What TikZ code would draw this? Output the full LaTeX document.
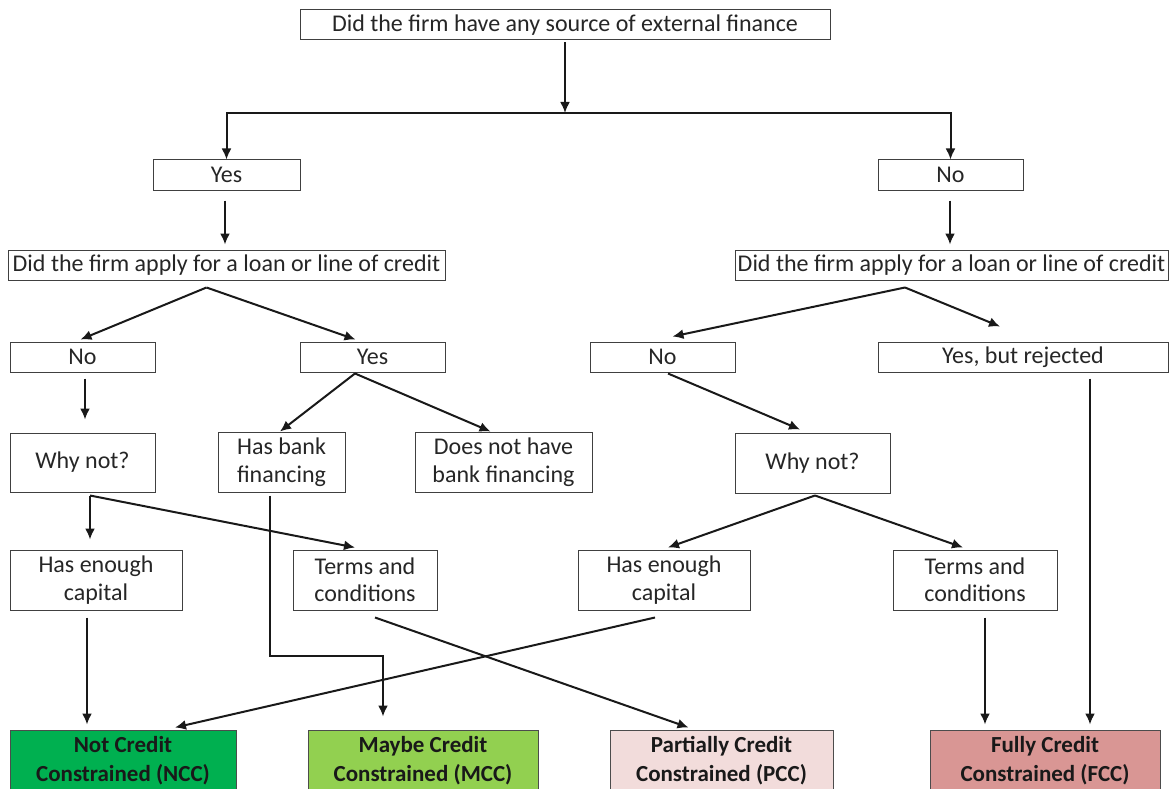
\documentclass[tikz,border=0pt]{standalone}
\usepackage{fontspec}
\setmainfont{Carlito}
\usepackage{tikz}
\usetikzlibrary{arrows.meta}
\usepackage{xcolor}
\usetikzlibrary{positioning}

\definecolor{nccgreen}{RGB}{0,176,80}
\definecolor{mccgreen}{RGB}{146,208,80}
\definecolor{pccpink}{RGB}{242,220,219}
\definecolor{fccpink}{RGB}{217,150,148}

\begin{document}
\begin{tikzpicture}[x=1pt,y=1pt]
  \tikzset{box/.style = {shape=rectangle,draw=black!75,line width=1pt,inner sep=1pt,
      align=center,text=black!85,font=\fontsize{24}{27.5}\selectfont}}
  \tikzset{outcome/.style = {box,font=\bfseries\fontsize{23}{29}\selectfont,text=black!90,
      minimum height=62,draw=black!70}}
  \tikzset{%
  tipE/.tip={Latex[length=11pt,width=10pt]},
  }
  \tikzset{edge/.style = {-tipE,line width=2pt,black!90}}
  \useasboundingbox (0,0) rectangle (1170,-789);

	\node[box,minimum width=530,minimum height=30] (src) at (565,-25) {Did the firm have any source of external finance};
	\node[box,minimum width=147,minimum height=30] (yes0) at (226.5,-175) {Yes};
	\node[box,minimum width=145,minimum height=30] (no0) at (950.5,-175) {No};
	\node[box,minimum width=437,minimum height=30] (applyA) at (226.5,-265) {Did the firm apply for a loan or line of credit};
	\node[box,minimum width=433,minimum height=30] (applyB) at (951.5,-265) {Did the firm apply for a loan or line of credit};
	\node[box,minimum width=145,minimum height=30] (noA) at (82.5,-357) {No};
	\node[box,minimum width=145,minimum height=30] (yesA) at (372.5,-357) {Yes};
	\node[box,minimum width=145,minimum height=30] (noB) at (662.5,-357) {No};
	\node[box,minimum width=290,minimum height=30] (yesrej) at (1023,-357) {Yes, but rejected};
	\node[box,minimum width=145,minimum height=59] (whyA) at (82.5,-462.5) {Why not?};
	\node[box,minimum width=127,minimum height=60] (bank) at (281.5,-462) {Has bank\\financing};
	\node[box,minimum width=177,minimum height=60] (nobank) at (503.5,-462) {Does not have\\bank financing};
	\node[box,minimum width=155,minimum height=60] (whyB) at (812.5,-463) {Why not?};
	\node[box,minimum width=172,minimum height=60] (capA) at (96,-580) {Has enough\\capital};
	\node[box,minimum width=144,minimum height=60] (termsA) at (365,-580) {Terms and\\conditions};
	\node[box,minimum width=172,minimum height=60] (capB) at (664,-580) {Has enough\\capital};
	\node[box,minimum width=164,minimum height=60] (termsB) at (975,-580) {Terms and\\conditions};
	\node[outcome,fill=nccgreen,minimum width=226] (ncc) at (123,-761) {Not Credit\\Constrained (NCC)};
	\node[outcome,fill=mccgreen,minimum width=230] (mcc) at (423,-761) {Maybe Credit\\Constrained (MCC)};
	\node[outcome,fill=pccpink,minimum width=223] (pcc) at (721.5,-761) {Partially Credit\\Constrained (PCC)};
	\node[outcome,fill=fccpink,minimum width=230] (fcc) at (1045,-761) {Fully Credit\\Constrained (FCC)};

	\coordinate (split) at (565,-113);
	\draw[edge] ([yshift=-2]src.south) -- (split);
	\draw[edge] (split) -| (yes0.north);
	\draw[edge] (split) -| (no0.north);

    \draw[edge] ([xshift=-1.5,yshift=-10]yes0.south) -- ([xshift=-1.5,yshift=5]applyA.north);
    \draw[edge] ([xshift=-0.5,yshift=-10]no0.south) -- ([xshift=-1.5,yshift=5]applyB.north);

    \draw[edge] ([xshift=-20,yshift=-7]applyA.south) -- ([xshift=-2,yshift=2]noA.north);
    \draw[edge] ([xshift=-20,yshift=-7]applyA.south) -- ([xshift=-17,yshift=2]yesA.north);
    \draw[edge] ([xshift=-46.5,yshift=-7]applyB.south) -- ([xshift=10,yshift=5]noB.north);
    \draw[edge] ([xshift=-46.5,yshift=-7]applyB.south) -- ([xshift=-23,yshift=15]yesrej.north);

    \draw[edge] ([xshift=2.5,yshift=-6]noA.south) -- ([xshift=2.5,yshift=13]whyA.north);
    \draw[edge] ([xshift=-17.5,yshift=-1]yesA.south) -- ([xshift=-1.5]bank.north);
    \draw[edge] ([xshift=-17.5,yshift=-1]yesA.south) -- ([xshift=-13]nobank.north);
    \draw[edge] ([xshift=5.5,yshift=-1]noB.south) -- ([xshift=-12.5,yshift=3]whyB.north);

    \draw[edge] ([xshift=7.5,yshift=-3]whyA.south) -- ([xshift=-6,yshift=10]capA.north);
    \draw[edge] ([xshift=7.5,yshift=-3]whyA.south) -- ([xshift=-10,yshift=2]termsA.north);
    \draw[edge] ([xshift=2.5,yshift=-2]whyB.south) -- ([xshift=4,yshift=2]capB.north);
    \draw[edge] ([xshift=2.5,yshift=-2]whyB.south) -- ([xshift=-12,yshift=2]termsB.north);

    \draw[edge] ([xshift=-11.5,yshift=-3]bank.south) -- ++(0,-160) -| ([xshift=-40,yshift=13]mcc.north);
    \draw[edge] ([xshift=-9,yshift=-7]capA.south) -- ([xshift=-36,yshift=5]ncc.north);
    \draw[edge] ([xshift=10,yshift=-7]termsA.south) -- ([xshift=-33,yshift=2]pcc.north);
    \draw[edge] ([xshift=-9,yshift=-7]capB.south) -- ([xshift=52,yshift=2]ncc.north);
    \draw[edge] ([xshift=10,yshift=-7]termsB.south) -- ([xshift=-60,yshift=5]fcc.north);
    \draw[edge] ([xshift=67,yshift=-6]yesrej.south) -- ([xshift=45,yshift=5]fcc.north);

\end{tikzpicture}
\end{document}
